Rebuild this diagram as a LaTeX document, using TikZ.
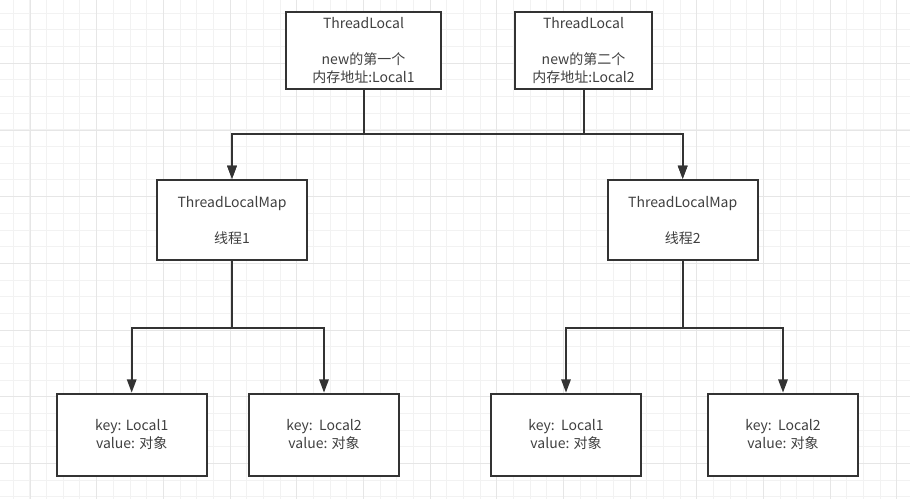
\documentclass[tikz,border=0pt]{standalone}
\usepackage{fontspec}
\newfontfamily\cjk{Noto Sans CJK SC}
\usetikzlibrary{arrows.meta}

\definecolor{linegray}{HTML}{333333}
\definecolor{textgray}{HTML}{404040}
\definecolor{minorgray}{HTML}{F2F2F2}
\definecolor{majorgray}{HTML}{E6E6E6}

\begin{document}
\begin{tikzpicture}[x=0.75pt, y=-0.75pt,
    box/.style={draw=linegray, line width=1.5pt, fill=white, align=center,
        inner sep=0pt, text=textgray, font={\cjk\fontsize{10.5}{13.5}\selectfont}},
    link/.style={draw=linegray, line width=1.5pt, -{Triangle[length=10pt, width=7pt]}}]

    % Fix the page to the size of the reference
    \useasboundingbox (0,0) rectangle (910,499);

    % Background grid, minor and major lines
    \foreach \i in {0,...,54}
        \draw[minorgray, line width=0.75pt] (13.33+16.667*\i, 0) -- (13.33+16.667*\i, 499);
    \foreach \i in {0,...,29}
        \draw[minorgray, line width=0.75pt] (0, 13.33+16.667*\i) -- (910, 13.33+16.667*\i);
    \foreach \i in {0,...,13}
        \draw[majorgray, line width=0.75pt] (30+66.667*\i, 0) -- (30+66.667*\i, 499);
    \foreach \i in {1,...,7}
        \draw[majorgray, line width=0.75pt] (0, -3.33+66.667*\i) -- (910, -3.33+66.667*\i);

    % ThreadLocal objects
    \node[box, minimum width=155*0.75pt, minimum height=77*0.75pt] (local1) at (363.5, 50.5)
        {ThreadLocal\\[13.5pt]new的第一个\\内存地址:Local1};
    \node[box, minimum width=137*0.75pt, minimum height=77*0.75pt] (local2) at (583.5, 50.5)
        {ThreadLocal\\[13.5pt]new的第二个\\内存地址:Local2};

    % One map per thread
    \node[box, minimum width=150*0.75pt, minimum height=80*0.75pt] (map1) at (232, 220)
        {ThreadLocalMap\\[13.5pt]线程1};
    \node[box, minimum width=150*0.75pt, minimum height=80*0.75pt] (map2) at (682.7, 220)
        {ThreadLocalMap\\[13.5pt]线程2};

    % Entries of the maps
    \node[box, minimum width=150*0.75pt, minimum height=82*0.75pt] (entry11) at (131.7, 434.7)
        {key: Local1\\value: 对象};
    \node[box, minimum width=150*0.75pt, minimum height=82*0.75pt] (entry12) at (324, 434.7)
        {key:\ \ Local2\\value: 对象};
    \node[box, minimum width=150*0.75pt, minimum height=82*0.75pt] (entry21) at (566, 434.7)
        {key:\ \ Local1\\value: 对象};
    \node[box, minimum width=150*0.75pt, minimum height=82*0.75pt] (entry22) at (783, 434.7)
        {key:\ \ Local2\\value: 对象};

    % Heights of the horizontal bars
    \coordinate (topbar) at (0, 134.3);
    \coordinate (bar1) at (0, 327.5);
    \coordinate (bar2) at (0, 327.5);

    % ThreadLocal to maps
    \draw[link] (local1.south) -- (local1.south |- topbar) -| (map1.north);
    \draw[link] (local1.south) -- (local1.south |- topbar) -| (map2.north);
    \draw[link] (local2.south) -- (local2.south |- topbar) -| (map1.north);
    \draw[link] (local2.south) -- (local2.south |- topbar) -| (map2.north);

    % Maps to entries
    \draw[link] (map1.south) -- (map1.south |- bar1) -| (entry11.north);
    \draw[link] (map1.south) -- (map1.south |- bar1) -| (entry12.north);
    \draw[link] (map2.south) -- (map2.south |- bar2) -| (entry21.north);
    \draw[link] (map2.south) -- (map2.south |- bar2) -| (entry22.north);

\end{tikzpicture}
\end{document}
